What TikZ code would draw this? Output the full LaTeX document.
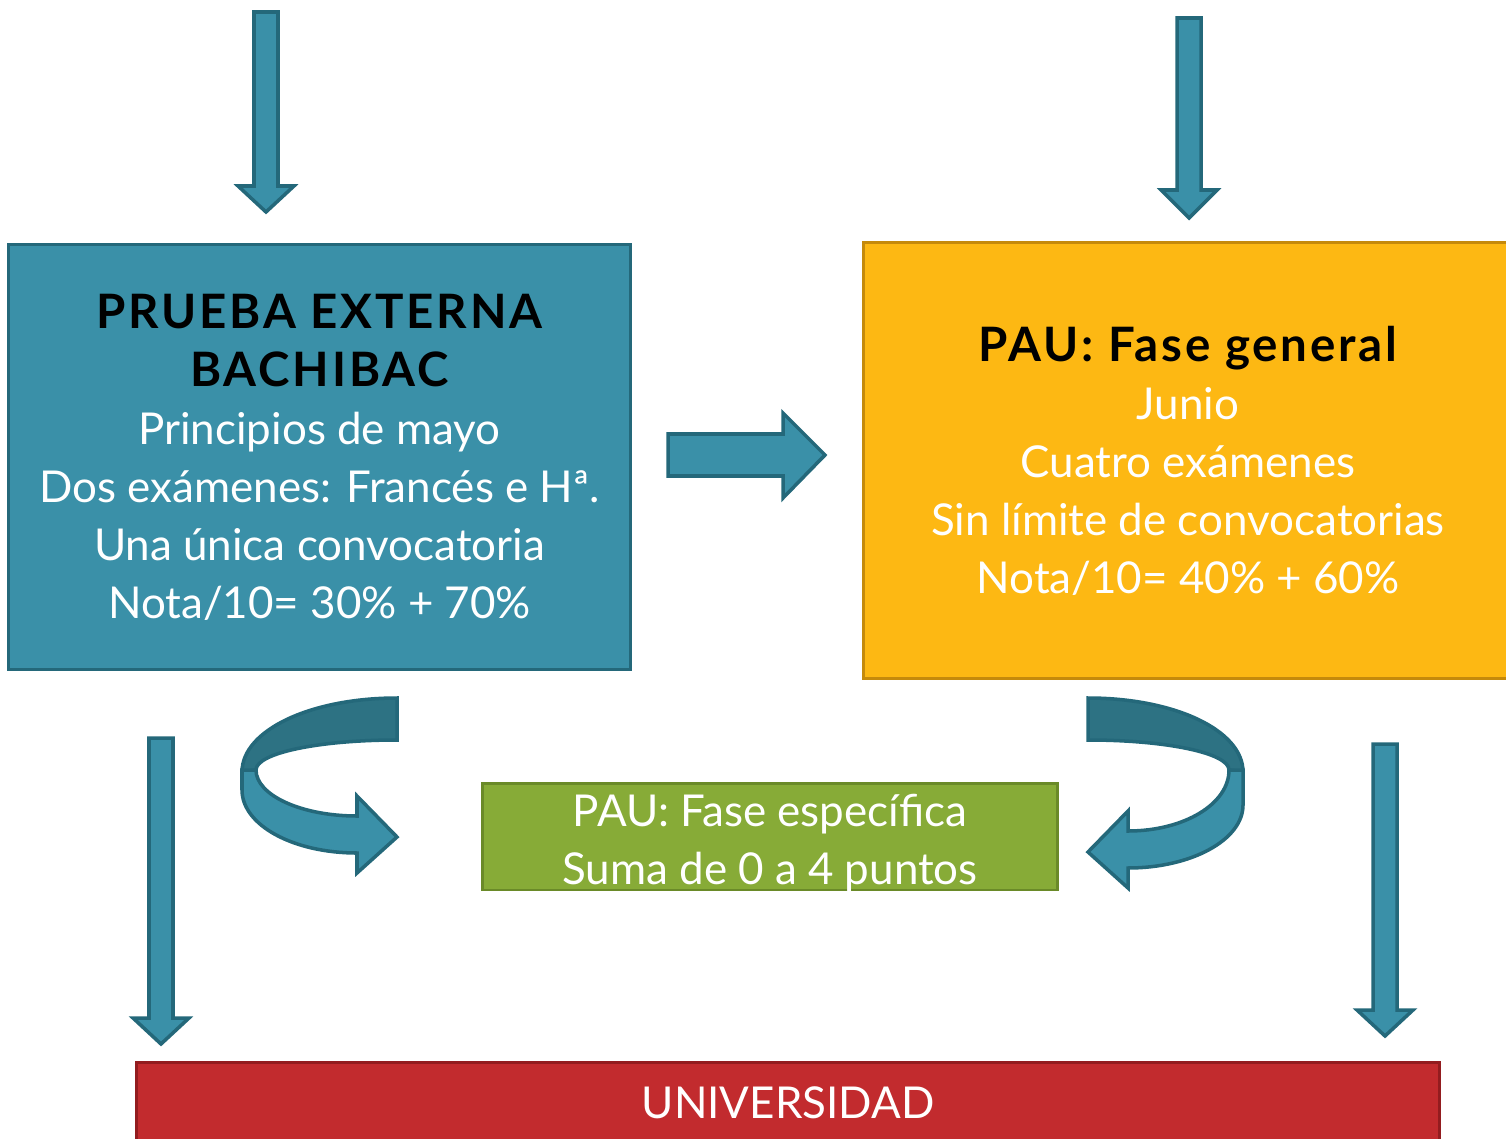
\documentclass[tikz,border=0pt]{standalone}
\usepackage{fontspec}
\setmainfont{Lato}
\definecolor{azul}{HTML}{3A90A8}
\definecolor{azuloscuro}{HTML}{2D7283}
\definecolor{azulborde}{HTML}{24687A}
\definecolor{naranja}{HTML}{FDB813}
\definecolor{naranjaborde}{HTML}{C58A0B}
\definecolor{verde}{HTML}{87AB37}
\definecolor{verdeborde}{HTML}{6A8A28}
\definecolor{rojo}{HTML}{C22B2E}
\definecolor{rojoborde}{HTML}{931C1F}

\newcommand{\titulo}[1]{\textcolor{black}{\fontsize{27}{33}\selectfont\bfseries\addfontfeatures{LetterSpace=6}#1}}

\tikzset{
  caja/.style={draw, line width=1.7pt, align=center, text=white,
    font=\fontsize{25}{33}\selectfont},
  bloque/.style={fill=azul, draw=azulborde, line width=2pt, line join=miter},
  bloquefondo/.style={fill=azuloscuro, draw=azulborde, line width=2pt}
}

% vertical block arrow: x, y top, y head base, y tip
\newcommand{\flechabaja}[4]{%
  \draw[bloque] (#1-12,#2) -- (#1+12,#2) -- (#1+12,#3) -- (#1+28,#3)
    -- (#1,#4) -- (#1-28,#3) -- (#1-12,#3) -- cycle;}

\begin{document}
\begin{tikzpicture}[x=0.02cm, y=-0.02cm]

    \useasboundingbox (0,0) rectangle (1506,1138);

    % Boxes
    \node[caja, fill=azul, draw=azulborde, minimum width=12.46cm, minimum height=8.52cm]
        (prueba) at (319.5,457)
        {\titulo{PRUEBA EXTERNA}\\
         \titulo{BACHIBAC}\\
         Principios de mayo\\
         Dos exámenes: Francés e Hª.\\
         Una única convocatoria\\
         Nota/10= 30\% + 70\%};

    \node[caja, fill=naranja, draw=naranjaborde, minimum width=13cm, minimum height=8.74cm]
        (general) at (1188,460.5)
        {\titulo{PAU: Fase general}\\
         Junio\\
         Cuatro exámenes\\
         Sin límite de convocatorias\\
         Nota/10= 40\% + 60\%};

    \node[caja, fill=verde, draw=verdeborde, minimum width=11.52cm, minimum height=2.14cm]
        (especifica) at (770,836.5) {};
    \node[caja, draw=none] (especificatexto) at (770,843)
        {PAU: Fase específica\\
         Suma de 0 a 4 puntos};

    \node[caja, fill=rojo, draw=rojoborde, minimum width=26.08cm, minimum height=1.64cm]
        (universidad) at (788,1103) {UNIVERSIDAD};

    % Straight arrows
    \flechabaja{266}{12}{186}{212}
    \flechabaja{1189}{18}{190}{218}
    \flechabaja{161}{738}{1018}{1044}
    \flechabaja{1385}{744}{1010}{1036}

    \draw[bloque] (668,434) -- (783,434) -- (783,413) -- (825,455)
        -- (783,498) -- (783,476) -- (668,476) -- cycle;

    % Curved arrow, left
    \draw[bloquefondo] (397,698) .. controls (311,698) and (242,730) .. (242,772)
        -- (256,770) .. controls (256,753) and (319,740) .. (397,740) -- cycle;
    \draw[bloque] (242,770) -- (242,790) .. controls (242,825) and (293,853) .. (357,853)
        -- (357,873) -- (397,837) -- (357,796) -- (357,816)
        .. controls (301,816) and (256,795) .. (256,770) -- cycle;

    % Curved arrow, right
    \draw[bloquefondo] (1088,698) .. controls (1174,698) and (1243,730) .. (1243,772)
        -- (1229,770) .. controls (1229,753) and (1166,740) .. (1088,740) -- cycle;
    \draw[bloque] (1243,770) -- (1243,805) .. controls (1243,840) and (1191,868) .. (1128,868)
        -- (1128,888) -- (1088,852) -- (1128,811) -- (1128,831)
        .. controls (1184,831) and (1229,804) .. (1229,770) -- cycle;

\end{tikzpicture}
\end{document}
